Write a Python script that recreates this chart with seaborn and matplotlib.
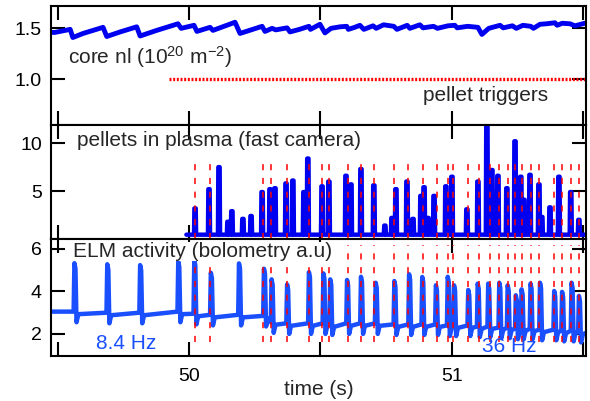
import numpy as np
import pandas as pd
import matplotlib
matplotlib.use("Agg")
import matplotlib.pyplot as plt
import seaborn as sns

# core line-integrated density (s, 1e20 m^-2)
nl_time = [49.476, 49.490, 49.548, 49.558, 49.597, 49.673, 49.687, 49.738, 49.801, 49.814,
           49.877, 49.958, 49.970, 50.019, 50.030, 50.080, 50.091, 50.175, 50.194, 50.278,
           50.289, 50.316, 50.330, 50.373, 50.384, 50.420, 50.456, 50.462, 50.498, 50.517,
           50.540, 50.574, 50.600, 50.606, 50.630, 50.650, 50.665, 50.700, 50.712, 50.740,
           50.779, 50.791, 50.830, 50.840, 50.878, 50.890, 50.930, 50.945, 50.985, 51.011,
           51.020, 51.060, 51.099, 51.114, 51.140, 51.183, 51.195, 51.230, 51.245, 51.270,
           51.300, 51.310, 51.335, 51.360, 51.392, 51.400, 51.420, 51.449, 51.468, 51.505]
nl_value = [1.46, 1.46, 1.49, 1.41, 1.45, 1.51, 1.42, 1.465, 1.515, 1.425,
            1.48, 1.545, 1.50, 1.53, 1.47, 1.51, 1.48, 1.56, 1.45, 1.52,
            1.47, 1.50, 1.485, 1.505, 1.465, 1.49, 1.52, 1.49, 1.54, 1.455,
            1.50, 1.515, 1.52, 1.49, 1.51, 1.53, 1.49, 1.525, 1.50, 1.535,
            1.52, 1.49, 1.53, 1.50, 1.535, 1.505, 1.52, 1.50, 1.525, 1.53,
            1.505, 1.52, 1.51, 1.44, 1.50, 1.53, 1.505, 1.525, 1.50, 1.53,
            1.52, 1.50, 1.54, 1.545, 1.555, 1.53, 1.55, 1.545, 1.525, 1.55]

# pellet trigger train
trigger_start, trigger_end, trigger_level = 49.925, 51.51, 1.0

# pellet arrival times (dashed red markers)
pellet_times = [50.023, 50.080, 50.280, 50.312, 50.371, 50.456, 50.507, 50.532, 50.606, 50.653,
                50.705, 50.779, 50.834, 50.889, 50.943, 50.986, 51.005, 51.060, 51.103, 51.144,
                51.179, 51.213, 51.240, 51.267, 51.299, 51.333, 51.389, 51.417, 51.452, 51.483]

# fast camera signal: start, baseline and peaks
cam_start, cam_end, cam_base = 49.99, 51.51, 0.45
cam_times = [50.023, 50.076, 50.114, 50.148, 50.163, 50.205, 50.236, 50.278, 50.308, 50.327,
             50.369, 50.395, 50.437, 50.452, 50.506, 50.532, 50.597, 50.616, 50.654, 50.703,
             50.745, 50.772, 50.787, 50.829, 50.852, 50.882, 50.894, 50.909, 50.932, 50.977,
             51.000, 51.057, 51.099, 51.133, 51.152, 51.175, 51.209, 51.240, 51.262, 51.274,
             51.297, 51.331, 51.342, 51.373, 51.407, 51.452, 51.483]
cam_peaks = [3.2, 5.2, 7.5, 1.8, 2.9, 2.1, 2.4, 4.9, 5.2, 5.3,
             5.8, 6.1, 4.9, 8.4, 5.5, 6.0, 6.6, 5.7, 7.3, 5.6,
             1.4, 2.2, 5.2, 6.0, 2.1, 4.5, 5.4, 2.2, 4.5, 5.5,
             6.5, 3.1, 6.0, 11.8, 7.2, 6.6, 5.3, 10.2, 6.5, 4.1,
             6.7, 5.7, 2.3, 3.3, 6.5, 4.9, 2.0]

# bolometry: ELM times, peak values and the level just before each ELM
elm_times = [49.564, 49.689, 49.814, 49.959, 50.020, 50.083, 50.190, 50.285, 50.314, 50.373,
             50.456, 50.511, 50.537, 50.601, 50.654, 50.710, 50.781, 50.837, 50.887, 50.939,
             50.984, 51.008, 51.062, 51.098, 51.138, 51.180, 51.212, 51.243, 51.265, 51.299,
             51.335, 51.389, 51.419, 51.455, 51.483]
elm_peaks = [5.33, 5.28, 5.24, 5.40, 5.48, 4.88, 5.32, 5.07, 4.57, 4.33,
             4.91, 4.85, 4.57, 4.54, 4.69, 4.41, 4.49, 4.81, 4.68, 4.29,
             4.69, 4.29, 4.07, 4.37, 4.37, 4.41, 4.29, 3.82, 4.10, 4.37,
             4.41, 4.02, 3.98, 4.41, 3.79]
elm_base = [3.05, 3.00, 3.00, 3.05, 2.95, 2.90, 2.90, 2.85, 2.55, 2.50,
            2.50, 2.50, 2.45, 2.50, 2.50, 2.50, 2.45, 2.45, 2.45, 2.45,
            2.40, 2.40, 2.40, 2.35, 2.35, 2.30, 2.30, 2.25, 2.25, 2.25,
            2.20, 2.20, 2.15, 2.15, 2.10]
elm_start, elm_end = (49.475, 3.05), (51.51, 2.05)

BLUE = "#0000f0"
ELM_BLUE = "#1a4fff"
FS = 15


def camera_trace():
    t, v = [cam_start], [cam_base]
    for tc, h in zip(cam_times, cam_peaks):
        t += [tc - 0.004, tc - 0.0025, tc + 0.0025, tc + 0.004]
        v += [cam_base, h, h, cam_base]
    t.append(cam_end)
    v.append(cam_base)
    return pd.DataFrame({"t": t, "v": v})


def elm_trace():
    t, v = [elm_start[0]], [elm_start[1]]
    for te, pk, b in zip(elm_times, elm_peaks, elm_base):
        t += [te - 0.003, te, te + 0.004, te + 0.008, te + 0.015]
        v += [b, pk, pk - 0.25, b - 0.5, b - 0.12]
    t.append(elm_end[0])
    v.append(elm_end[1])
    return pd.DataFrame({"t": t, "v": v})


sns.set_style("ticks")
plt.rcParams['font.family'] = ['Liberation Sans', 'DejaVu Sans']
plt.rcParams['mathtext.default'] = 'regular'

fig = plt.figure(figsize=(5.9, 4.01), dpi=100)
L, W = 51 / 590, 535 / 590
ax1 = fig.add_axes([L, 0.6883, W, 0.2968])
ax2 = fig.add_axes([L, 0.4040, W, 0.2843])
ax3 = fig.add_axes([L, 0.1122, W, 0.2918])

# top: density + triggers
df_nl = pd.DataFrame({"t": nl_time, "v": nl_value})
sns.lineplot(data=df_nl, x="t", y="v", ax=ax1, color=BLUE, lw=3.5,
             estimator=None, sort=False)
ax1.plot([trigger_start, trigger_end], [trigger_level, trigger_level], color="red",
         lw=2.4, linestyle=(0, (0.6, 0.5)), dash_capstyle="butt")
ax1.set_ylim(0.55, 1.72)
ax1.set_yticks([1.0, 1.5])
ax1.set_yticklabels(["1.0", "1.5"])
ax1.text(49.54, 1.155, r"core nl (10$^{20}$ m$^{-2}$)", fontsize=FS, va="baseline")
ax1.text(50.89, 0.787, "pellet triggers", fontsize=FS, va="baseline")

# middle: fast camera
sns.lineplot(data=camera_trace(), x="t", y="v", ax=ax2, color=BLUE, lw=3.2,
             estimator=None, sort=False)
ax2.vlines(pellet_times, 0, 8.6, colors="red", linestyles=(0, (4, 5)), lw=1.1, zorder=3)
ax2.set_ylim(0, 11.9)
ax2.set_yticks([5, 10])
ax2.text(49.574, 9.67, "pellets in plasma (fast camera)", fontsize=FS, va="baseline")

# bottom: bolometry
sns.lineplot(data=elm_trace(), x="t", y="v", ax=ax3, color=ELM_BLUE, lw=3.2,
             estimator=None, sort=False)
ax3.vlines(pellet_times, 1.6, 6.2, colors="red", linestyles=(0, (4, 5)), lw=1.1, zorder=3)
ax3.set_ylim(0.96, 6.47)
ax3.set_yticks([2, 4, 6])
ax3.text(49.559, 5.64, "ELM activity (bolometry a.u)", fontsize=FS, va="baseline", zorder=5,
         bbox=dict(facecolor="white", edgecolor="none", pad=0))
ax3.text(49.646, 1.294, "8.4 Hz", fontsize=FS, va="baseline", color=ELM_BLUE)
ax3.text(51.114, 1.17, "36 Hz", fontsize=FS, va="baseline", color=ELM_BLUE)

for ax in (ax1, ax2, ax3):
    ax.set_xlim(49.475, 51.51)
    ax.set_xticks([49.5, 50.0, 50.5, 51.0, 51.5])
    ax.set_xlabel("")
    ax.set_ylabel("")
    ax.tick_params(direction="in", length=10, width=1.5, top=True, right=True,
                   labelsize=14, pad=6.5, colors="black")
    for s in ax.spines.values():
        s.set_linewidth(1.5)
        s.set_color("black")
    ax.set_xticklabels([])

ax3.set_xticklabels(["", "50", "", "51", ""])
ax3.tick_params(axis="x", pad=8.5)
ax3.set_xlabel("time (s)", fontsize=FS, labelpad=-3.5)

fig.savefig("out.png", dpi=100)
